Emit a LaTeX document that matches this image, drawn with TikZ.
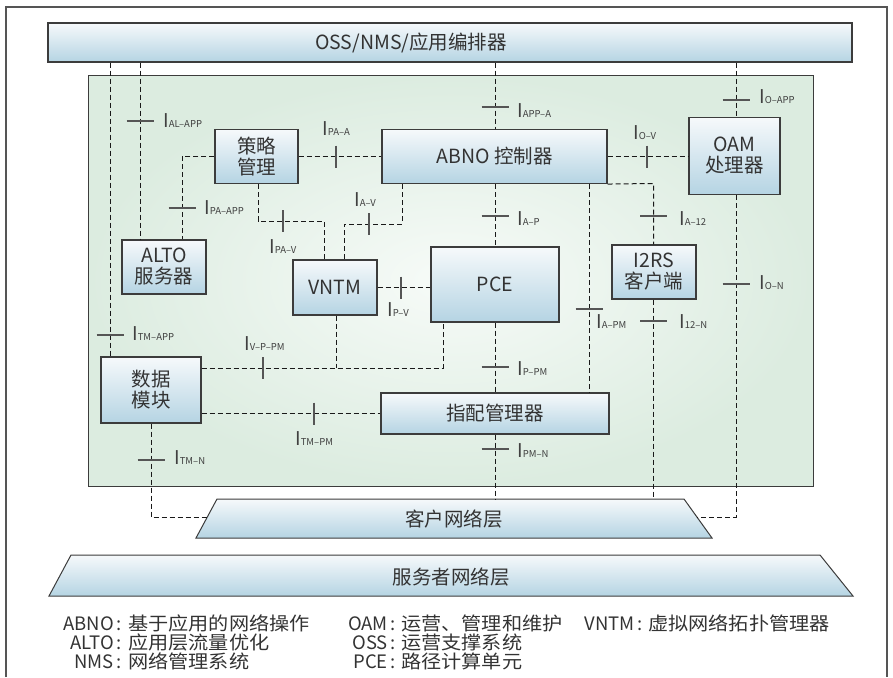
\documentclass[tikz,border=0pt]{standalone}
\usepackage{fontspec}
\setmainfont{Noto Sans CJK SC}
\newfontfamily\legcjk[FakeStretch=1.09]{Noto Sans CJK SC}
\definecolor{boxtop}{HTML}{F6F9FB}
\definecolor{boxbot}{HTML}{B5D4E3}
\definecolor{boxline}{HTML}{3C3C3C}
\definecolor{greenc}{HTML}{DCECE0}
\definecolor{greenin}{HTML}{F7FBF8}
\definecolor{txt}{HTML}{333333}
\definecolor{labc}{HTML}{404040}
\definecolor{tickc}{HTML}{555555}
\newcommand\iface[1]{{\fontsize{19}{19}\selectfont I}{\fontsize{9.5}{10}\selectfont #1}}
\newcommand\htick[2]{\draw[tk] (#1-13.5,#2) -- (#1+13.5,#2);}
\newcommand\vtick[2]{\draw[tk] (#1,#2-11) -- (#1,#2+11);}
\tikzset{
  box/.style={draw=boxline, line width=1.1pt, top color=boxtop, bottom color=boxbot,
    align=center, inner sep=0pt, text=txt, font=\fontsize{19.5}{21}\selectfont},
  dl/.style={draw=black!90, line width=1pt, dash pattern=on 5pt off 3pt},
  tk/.style={draw=tickc, line width=1.2pt},
  lab/.style={anchor=base west, inner sep=0pt, text=labc},
  layer/.style={draw=boxline, line width=1pt, top color=boxtop, bottom color=boxbot},
  laytext/.style={inner sep=0pt, text=txt, font=\fontsize{19.5}{21}\selectfont},
  leg/.style={inner sep=0pt, text=txt, font=\fontsize{18.5}{19}\selectfont},
}
\begin{document}
\begin{tikzpicture}[x=1pt, y=-1pt]
\useasboundingbox (0,0) rectangle (893,677);
% outer frame
\draw[tickc, line width=1.2pt] (6,677) -- (6,7) -- (887,7) -- (887,677);
% green area
\path[draw=boxline, line width=1pt, inner color=greenin, outer color=greenc] (88,75) rectangle (813,486);

% boxes
\node[box, minimum width=804, minimum height=39] (oss) at (450,42.5) {\hspace*{-78pt}OSS/NMS/应用编排器};
\node[box, minimum width=83, minimum height=54] (pm) at (256.5,156.5) {策略\\管理};
\node[box, minimum width=225, minimum height=54] (abno) at (494.5,156.5) {ABNO 控制器};
\node[box, minimum width=91, minimum height=77] (oam) at (734.5,156) {OAM\\处理器};
\node[box, minimum width=84, minimum height=54] (alto) at (164,267) {ALTO\\服务器};
\node[box, minimum width=84, minimum height=55] (vntm) at (335,287.5) {VNTM};
\node[box, minimum width=128, minimum height=75] (pce) at (495,284.5) {PCE};
\node[box, minimum width=84, minimum height=54] (i2rs) at (654,272) {I2RS\\客户端};
\node[box, minimum width=100, minimum height=66] (dm) at (151,390) {数据\\模块};
\node[box, minimum width=228, minimum height=41] (asm) at (495,413.5) {指配管理器};

% layers
\path[layer] (217,499) -- (684,499) -- (712,538) -- (196,538) -- cycle;
\node[laytext] (cn) at (454,519) {客户网络层};
\coordinate (cnTL) at (217,499);
\coordinate (cnL) at (207,517);
\coordinate (cnR) at (697,517);
\path[layer] (71,555) -- (820,555) -- (853,596) -- (49,596) -- cycle;
\node[laytext] (sn) at (451,577) {服务者网络层};

% connectors
\draw[dl] (oss.south -| 110,0) -- (dm.north -| 110,0);
\draw[dl] (oss.south -| 140,0) -- (alto.north -| 140,0);
\draw[dl] (pm.west) -| (alto.north -| 182,0);
\draw[dl] (pm.east) -- (abno.west);
\draw[dl] (pm.south -| 258,0) -- (258,221) -- (324,221) -- (vntm.north -| 324,0);
\draw[dl] (abno.south -| 402,0) -- (402,224) -- (344,224) -- (vntm.north -| 344,0);
\draw[dl] (oss.south -| 495,0) -- (abno.north -| 495,0);
\draw[dl] (abno.east) -- (abno.east -| oam.west);
\draw[dl] (oss.south -| 736,0) -- (oam.north -| 736,0);
\draw[dl] (abno.south -| 495,0) -- (pce.north -| 495,0);
\draw[dl] (abno.south east) -- (653.5,183.5) -- (i2rs.north -| 653.5,0);
\draw[dl] (abno.south -| 589,0) -- (asm.north -| 589,0);
\draw[dl] (vntm.east) -- (vntm.east -| pce.west);
\draw[dl] (dm.east |- 0,368) -- (443,368) -- (pce.south -| 443,0);
\draw[dl] (vntm.south -| 336,0) -- (336,368);
\draw[dl] (dm.east |- asm.west) -- (asm.west);
\draw[dl] (pce.south -| 495,0) -- (asm.north -| 495,0);
\draw[dl] (asm.south -| 495,0) -- (cnTL -| 495,0);
\draw[dl] (i2rs.south -| 653.5,0) -- (cnTL -| 653.5,0);
\draw[dl] (oam.south -| 736,0) -- (736,517) -- (cnR);
\draw[dl] (dm.south) -- (151,517) -- (cnL);

% ticks
\htick{140}{121}
\htick{110}{335}
\htick{182}{208}
\htick{495}{107}
\htick{736}{100}
\htick{495}{216}
\htick{653.5}{216}
\htick{589}{309}
\htick{653.5}{321}
\htick{736}{284}
\htick{495}{367}
\htick{495}{449}
\htick{151}{460}
\vtick{336}{156.5}
\vtick{283}{221}
\vtick{369}{224}
\vtick{647}{156.5}
\vtick{401}{287.5}
\vtick{263}{368}
\vtick{314}{413.5}

% interface labels
\node[lab] (lalapp) at (163,127) {\iface{AL–APP}};
\node[lab] (lpaa) at (322,135) {\iface{PA–A}};
\node[lab] (lpaapp) at (204,214) {\iface{PA–APP}};
\node[lab] (lav) at (354,206) {\iface{A–V}};
\node[lab] (lpav) at (269,253) {\iface{PA–V}};
\node[lab] (lappa) at (517,117) {\iface{APP–A}};
\node[lab] (lov) at (633,139) {\iface{O–V}};
\node[lab] (loapp) at (759,103) {\iface{O–APP}};
\node[lab] (lap) at (517,225) {\iface{A–P}};
\node[lab] (la12) at (679,225) {\iface{A–12}};
\node[lab] (lon) at (759,289) {\iface{O–N}};
\node[lab] (lpv) at (387,316) {\iface{P–V}};
\node[lab] (lapm) at (596,328) {\iface{A–PM}};
\node[lab] (l12n) at (679,328) {\iface{12–N}};
\node[lab] (ltmapp) at (132,340) {\iface{TM–APP}};
\node[lab] (lvppm) at (244,350) {\iface{V–P–PM}};
\node[lab] (ltmpm) at (295,445) {\iface{TM–PM}};
\node[lab] (ltmn) at (174,464) {\iface{TM–N}};
\node[lab] (lppm) at (517,375) {\iface{P–PM}};
\node[lab] (lpmn) at (517,457) {\iface{PM–N}};

% legend
\node[leg, anchor=base east] (ga1) at (114,630) {ABNO};
\node[leg, anchor=base] (gc1) at (119.5,630) {:};
\node[leg, anchor=base west] (gd1) at (128,630) {\legcjk 基于应用的网络操作};
\node[leg, anchor=base east] (ga2) at (114,649) {ALTO};
\node[leg, anchor=base] (gc2) at (119.5,649) {:};
\node[leg, anchor=base west] (gd2) at (128,649) {\legcjk 应用层流量优化};
\node[leg, anchor=base east] (ga3) at (114,668) {NMS};
\node[leg, anchor=base] (gc3) at (119.5,668) {:};
\node[leg, anchor=base west] (gd3) at (128,668) {\legcjk 网络管理系统};
\node[leg, anchor=base east] (gb1) at (388,630) {OAM};
\node[leg, anchor=base] (gk1) at (393.5,630) {:};
\node[leg, anchor=base west] (ge1) at (401,630) {\legcjk 运营、管理和维护};
\node[leg, anchor=base east] (gb2) at (388,649) {OSS};
\node[leg, anchor=base] (gk2) at (393.5,649) {:};
\node[leg, anchor=base west] (ge2) at (401,649) {\legcjk 运营支撑系统};
\node[leg, anchor=base east] (gb3) at (388,668) {PCE};
\node[leg, anchor=base] (gk3) at (393.5,668) {:};
\node[leg, anchor=base west] (ge3) at (401,668) {\legcjk 路径计算单元};
\node[leg, anchor=base east] (gv1) at (635,630) {VNTM};
\node[leg, anchor=base] (gw1) at (640.5,630) {:};
\node[leg, anchor=base west] (gx1) at (648,630) {\legcjk 虚拟网络拓扑管理器};
\end{tikzpicture}
\end{document}
